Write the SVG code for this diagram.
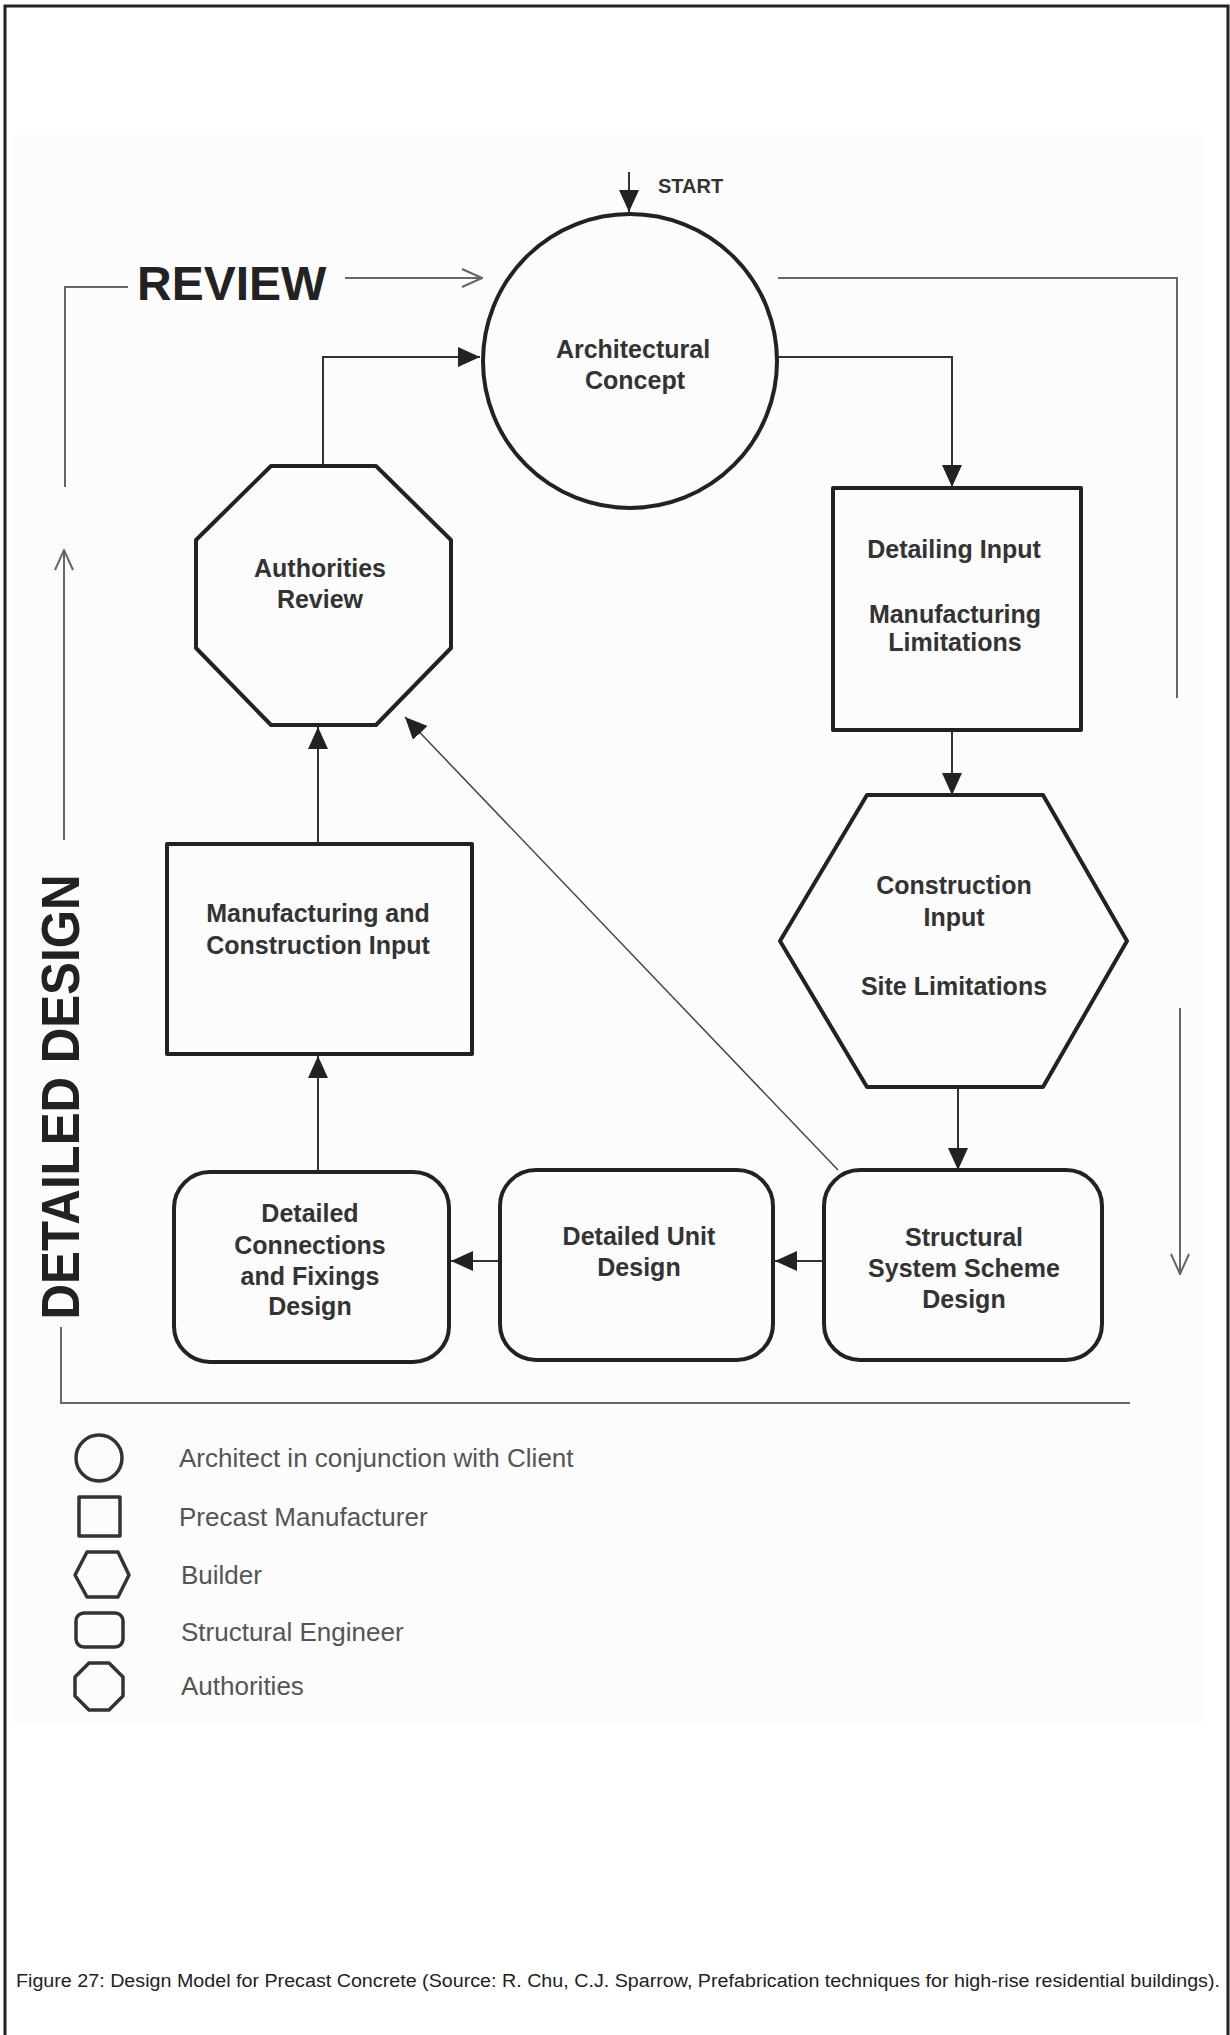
<svg xmlns="http://www.w3.org/2000/svg" width="1230" height="2035" viewBox="0 0 1230 2035">
<style>
.node{fill:none;stroke:#222;stroke-width:4;stroke-linejoin:round}
.lbl{font-family:"Liberation Sans",Arial,sans-serif;font-weight:bold;font-size:25px;fill:#333;text-anchor:middle}
.conn{fill:none;stroke:#333;stroke-width:2}
.loop{fill:none;stroke:#666;stroke-width:2}
.leg{fill:none;stroke:#333;stroke-width:3.5;stroke-linejoin:round}
.legt{font-family:"Liberation Sans",Arial,sans-serif;font-size:26px;fill:#555}
</style>
<defs>
<marker id="fa" markerUnits="userSpaceOnUse" viewBox="0 0 22 20" refX="22" refY="10" markerWidth="22" markerHeight="20" orient="auto">
<path d="M0,0 L22,10 L0,20 z" fill="#222"/>
</marker>
<marker id="oa" markerUnits="userSpaceOnUse" viewBox="0 0 22 20" refX="21" refY="10" markerWidth="22" markerHeight="20" orient="auto">
<path d="M1,1 L21,10 L1,19" fill="none" stroke="#666" stroke-width="2"/>
</marker>
</defs>
<rect x="0" y="0" width="1230" height="2035" fill="#fff"/>
<rect x="14" y="135" width="1189" height="1590" fill="#fcfcfc"/>
<path d="M5,2040 V6 H1228 V2040" fill="none" stroke="#222" stroke-width="3"/>

<g id="connectors">
<line class="conn" x1="629" y1="172" x2="629" y2="212" marker-end="url(#fa)"/>
<line class="loop" x1="345" y1="278" x2="482" y2="278" marker-end="url(#oa)"/>
<polyline class="loop" points="778,278 1177,278 1177,698"/>
<line class="loop" x1="1180" y1="1008" x2="1180" y2="1274" marker-end="url(#oa)"/>
<polyline class="loop" points="128,287 65,287 65,487"/>
<line class="loop" x1="64" y1="840" x2="64" y2="550" marker-end="url(#oa)"/>
<polyline class="loop" points="61,1327 61,1403 1130,1403"/>
<polyline class="conn" points="778,357 952,357 952,487" marker-end="url(#fa)"/>
<polyline class="conn" points="323,466 323,357 480,357" marker-end="url(#fa)"/>
<line class="conn" x1="952" y1="731" x2="952" y2="795" marker-end="url(#fa)"/>
<line class="conn" x1="958" y1="1087" x2="958" y2="1170" marker-end="url(#fa)"/>
<line class="conn" x1="824" y1="1261" x2="775" y2="1261" marker-end="url(#fa)"/>
<line class="conn" x1="500" y1="1261" x2="451" y2="1261" marker-end="url(#fa)"/>
<line class="conn" x1="318" y1="1172" x2="318" y2="1056" marker-end="url(#fa)"/>
<line class="conn" x1="318" y1="844" x2="318" y2="727" marker-end="url(#fa)"/>
<line x1="838" y1="1170" x2="405" y2="717" stroke="#444" stroke-width="1.5" marker-end="url(#fa)"/>
</g>

<text x="658" y="193" font-family="'Liberation Sans',Arial,sans-serif" font-weight="bold" font-size="20" fill="#333">START</text>
<text x="137" y="300" font-family="'Liberation Sans',Arial,sans-serif" font-weight="bold" font-size="48" fill="#222">REVIEW</text>
<text transform="translate(79,1097) rotate(-90)" text-anchor="middle" font-family="'Liberation Sans',Arial,sans-serif" font-weight="bold" font-size="53" fill="#222" textLength="445" lengthAdjust="spacingAndGlyphs">DETAILED DESIGN</text>

<g id="architectural-concept">
<circle class="node" cx="630" cy="361" r="147"/>
<text class="lbl" x="633" y="358">Architectural</text>
<text class="lbl" x="635" y="389">Concept</text>
</g>

<g id="authorities-review">
<polygon class="node" points="271,466 376,466 451,540 451,648 376,725 271,725 196,648 196,540"/>
<text class="lbl" x="320" y="577">Authorities</text>
<text class="lbl" x="320" y="608">Review</text>
</g>

<g id="detailing-input">
<rect class="node" x="833" y="488" width="248" height="242"/>
<text class="lbl" x="954" y="558">Detailing Input</text>
<text class="lbl" x="955" y="623">Manufacturing</text>
<text class="lbl" x="955" y="651">Limitations</text>
</g>

<g id="construction-input">
<polygon class="node" points="867,795 1043,795 1127,941 1043,1087 867,1087 780,941"/>
<text class="lbl" x="954" y="894">Construction</text>
<text class="lbl" x="954" y="926">Input</text>
<text class="lbl" x="954" y="995">Site Limitations</text>
</g>

<g id="structural-system">
<rect class="node" x="824" y="1170" width="278" height="190" rx="36"/>
<text class="lbl" x="964" y="1246">Structural</text>
<text class="lbl" x="964" y="1277">System Scheme</text>
<text class="lbl" x="964" y="1308">Design</text>
</g>

<g id="detailed-unit">
<rect class="node" x="500" y="1170" width="273" height="190" rx="36"/>
<text class="lbl" x="639" y="1245">Detailed Unit</text>
<text class="lbl" x="639" y="1276">Design</text>
</g>

<g id="detailed-connections">
<rect class="node" x="174" y="1172" width="275" height="190" rx="36"/>
<text class="lbl" x="310" y="1222">Detailed</text>
<text class="lbl" x="310" y="1254">Connections</text>
<text class="lbl" x="310" y="1285">and Fixings</text>
<text class="lbl" x="310" y="1315">Design</text>
</g>

<g id="manufacturing-construction">
<rect class="node" x="167" y="844" width="305" height="210"/>
<text class="lbl" x="318" y="922">Manufacturing and</text>
<text class="lbl" x="318" y="954">Construction Input</text>
</g>

<g id="legend">
<circle class="leg" cx="99" cy="1458" r="23"/>
<text class="legt" x="179" y="1467">Architect in conjunction with Client</text>
<rect class="leg" x="79" y="1497" width="41" height="39"/>
<text class="legt" x="179" y="1526">Precast Manufacturer</text>
<polygon class="leg" points="87,1552 118,1552 129,1575 118,1597 87,1597 75,1575"/>
<text class="legt" x="181" y="1584">Builder</text>
<rect class="leg" x="76" y="1613" width="47" height="34" rx="8"/>
<text class="legt" x="181" y="1641">Structural Engineer</text>
<polygon class="leg" points="89,1663 109,1663 123,1677 123,1696 109,1710 89,1710 75,1696 75,1677"/>
<text class="legt" x="181" y="1695">Authorities</text>
</g>

<text x="16" y="1987" font-family="'Liberation Sans',Arial,sans-serif" font-size="18" fill="#222" textLength="1204" lengthAdjust="spacingAndGlyphs">Figure 27: Design Model for Precast Concrete (Source: R. Chu, C.J. Sparrow, Prefabrication techniques for high-rise residential buildings).</text>
</svg>
